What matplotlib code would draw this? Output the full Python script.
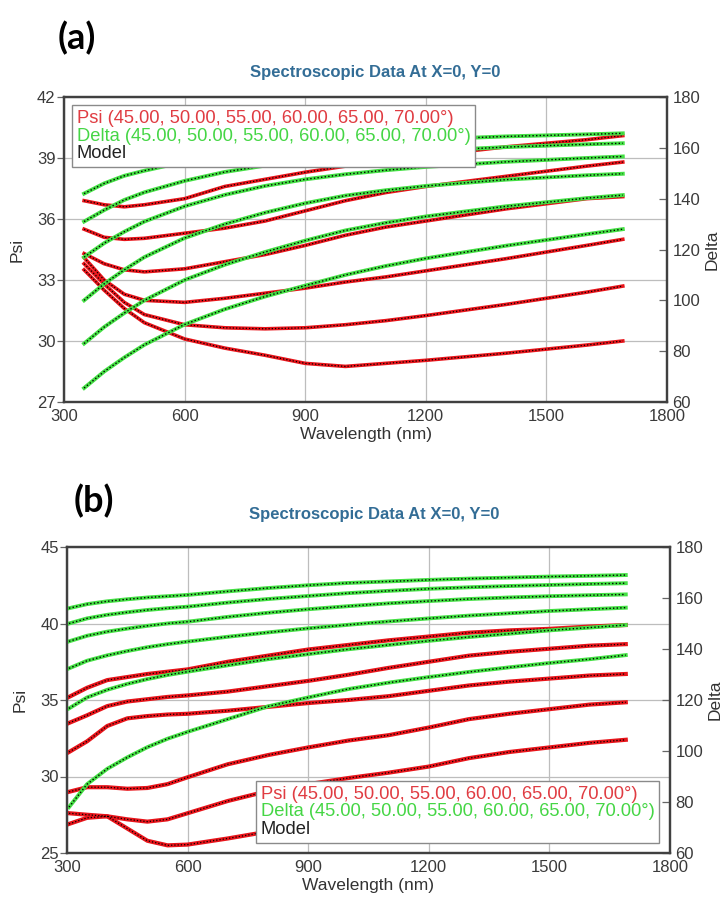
import matplotlib.pyplot as plt
from matplotlib.lines import Line2D

plt.rcParams['font.family'] = ['Liberation Sans', 'DejaVu Sans']

angles = ["45.00", "50.00", "55.00", "60.00", "65.00", "70.00"]
x_ticks = [300, 600, 900, 1200, 1500, 1800]
delta_ticks = [60, 80, 100, 120, 140, 160, 180]

# ---- panel (a) ----
wl_a = [350, 400, 450, 500, 600, 700, 800, 900, 1000, 1100, 1200, 1400, 1600, 1690]
psi_a = [
    [36.9, 36.7, 36.6, 36.7, 37.0, 37.6, 37.95, 38.3, 38.6, 38.85, 39.1, 39.55, 39.9, 40.1],
    [35.5, 35.1, 35.0, 35.05, 35.3, 35.55, 35.9, 36.4, 36.9, 37.3, 37.6, 38.1, 38.6, 38.8],
    [34.3, 33.8, 33.5, 33.4, 33.55, 33.9, 34.25, 34.7, 35.2, 35.6, 35.9, 36.5, 37.0, 37.1],
    [34.1, 33.0, 32.3, 32.0, 31.9, 32.1, 32.35, 32.6, 32.9, 33.15, 33.45, 34.05, 34.7, 35.0],
    [33.8, 32.8, 31.9, 31.3, 30.8, 30.65, 30.6, 30.65, 30.8, 31.0, 31.25, 31.8, 32.4, 32.7],
    [33.5, 32.5, 31.6, 30.9, 30.1, 29.65, 29.3, 28.9, 28.75, 28.9, 29.05, 29.4, 29.8, 30.0],
]
delta_a = [
    [65.5, 72, 77.5, 82.5, 90.5, 96.5, 101.5, 105.8, 110, 113.5, 116.5, 121.5, 126, 128],
    [83, 89.5, 95, 100, 108, 114, 119, 123.5, 127.5, 130.5, 133, 137, 140.2, 141.4],
    [100, 106.5, 112, 117, 124.5, 130, 134.5, 138.2, 141.2, 143.3, 145, 147.5, 149.2, 149.8],
    [117, 122.5, 127, 131, 137, 141.5, 145, 147.6, 149.6, 151.2, 152.5, 154.5, 156, 156.6],
    [131, 135.5, 139.5, 142.5, 147, 150.5, 153, 155, 156.5, 157.8, 158.8, 160.3, 161.4, 161.8],
    [142, 146, 149, 151, 154.5, 157, 158.8, 160.3, 161.5, 162.5, 163.3, 164.5, 165.3, 165.7],
]
psi_ticks_a = [27, 30, 33, 36, 39, 42]

# ---- panel (b) ----
wl_b = [305, 350, 400, 450, 500, 550, 600, 700, 800, 900, 1000, 1100, 1200, 1300, 1400, 1500, 1600, 1690]
psi_b = [
    [35.2, 35.8, 36.3, 36.5, 36.7, 36.85, 37.0, 37.5, 37.9, 38.3, 38.6, 38.9, 39.15, 39.4, 39.55, 39.65, 39.8, 39.9],
    [33.5, 34.0, 34.6, 34.9, 35.05, 35.2, 35.3, 35.55, 35.9, 36.25, 36.65, 37.1, 37.5, 37.9, 38.15, 38.35, 38.55, 38.65],
    [31.6, 32.3, 33.3, 33.8, 33.95, 34.05, 34.1, 34.3, 34.55, 34.8, 35.0, 35.25, 35.6, 35.95, 36.2, 36.4, 36.6, 36.7],
    [29.0, 29.3, 29.3, 29.2, 29.25, 29.5, 29.95, 30.8, 31.4, 31.9, 32.35, 32.7, 33.2, 33.75, 34.1, 34.4, 34.7, 34.85],
    [27.6, 27.5, 27.4, 27.2, 27.05, 27.2, 27.6, 28.4, 29.05, 29.5, 29.9, 30.25, 30.65, 31.2, 31.6, 31.9, 32.2, 32.4],
    [26.9, 27.3, 27.4, 26.6, 25.8, 25.5, 25.55, 25.95, 26.4, 26.75, 27.1, 27.4, 27.7, 28.0, 28.3, 28.55, 28.8, 29.0],
]
delta_b = [
    [156, 157.6, 158.7, 159.5, 160.2, 160.7, 161.2, 162.6, 163.9, 165.0, 165.9, 166.5, 167.1, 167.6, 168.0, 168.4, 168.7, 169.0],
    [150, 152, 153.4, 154.4, 155.3, 156.0, 156.6, 158.2, 159.6, 160.8, 161.9, 162.8, 163.6, 164.2, 164.7, 165.1, 165.5, 165.8],
    [143, 145.2, 146.8, 148.0, 149.1, 150.0, 150.7, 152.6, 154.2, 155.6, 156.8, 157.9, 158.8, 159.6, 160.2, 160.7, 161.1, 161.4],
    [132.4, 135.4, 137.5, 139.2, 140.7, 141.9, 142.9, 144.8, 146.5, 148.1, 149.5, 150.8, 152.0, 153.1, 154.0, 154.9, 155.6, 156.2],
    [116.7, 121, 124, 126.3, 128.2, 129.8, 131.1, 133.6, 136.0, 138.0, 139.9, 141.6, 143.2, 144.7, 146.0, 147.3, 148.4, 149.4],
    [78, 87, 93, 97.5, 101.5, 104.8, 107.5, 112.5, 117.5, 121.0, 124.3, 126.8, 129.0, 131.0, 132.8, 134.5, 136.0, 137.6],
]
psi_ticks_b = [25, 30, 35, 40, 45]

RED = "#e8141a"
GREEN = "#44e044"
TICK_COLOR = "#3a3a3a"
legend_labels = [
    "Psi (" + ", ".join(angles[:-1]) + ", " + angles[-1] + "°)",
    "Delta (" + ", ".join(angles[:-1]) + ", " + angles[-1] + "°)",
    "Model",
]
legend_colors = ["#e03c42", "#45d645", "#222222"]
MODEL_LS = (0, (1, 1.6))


def draw_panel(rect, wl, psi, delta, psi_ticks, red_lw, legend_loc, legend_anchor):
    ax = fig.add_axes(rect)
    ax2 = ax.twinx()

    for series in psi:
        ax.plot(wl, series, color=RED, lw=red_lw, solid_joinstyle="round", zorder=2)
        ax.plot(wl, series, color="black", lw=0.9, ls=MODEL_LS, zorder=3)
    for series in delta:
        ax2.plot(wl, series, color=GREEN, lw=2.8, zorder=2)
        ax2.plot(wl, series, color="black", lw=1.0, ls=MODEL_LS, zorder=3)

    ax.set_xlim(300, 1800)
    ax.set_xticks(x_ticks)
    ax.set_ylim(psi_ticks[0], psi_ticks[-1])
    ax.set_yticks(psi_ticks)
    ax2.set_ylim(60, 180)
    ax2.set_yticks(delta_ticks)

    ax.grid(True, color="#bdbdbd", lw=0.9)
    ax.set_axisbelow(True)

    ax.tick_params(axis="x", length=0, pad=5, labelsize=12, labelcolor=TICK_COLOR)
    ax.tick_params(axis="y", direction="out", length=5, width=0.9, pad=1,
                   labelsize=12, labelcolor=TICK_COLOR, color="#666666")
    ax2.tick_params(axis="y", direction="in", length=6, width=0.9, pad=4,
                    labelsize=12, labelcolor=TICK_COLOR, color="#666666")

    for a in (ax, ax2):
        for sp in a.spines.values():
            sp.set_color("#404040")
            sp.set_linewidth(1.6)

    ax.set_xlabel("Wavelength (nm)", fontsize=12.5, color="#333333", labelpad=2)
    ax.set_ylabel("Psi", fontsize=12.5, color="#333333", labelpad=9)
    ax2.set_ylabel("Delta", fontsize=12.5, color="#333333", labelpad=3)

    handles = [Line2D([], [], linestyle="none") for _ in legend_labels]
    leg = ax2.legend(handles, legend_labels, loc=legend_loc, bbox_to_anchor=legend_anchor,
                     handlelength=0, handletextpad=0, fontsize=13.2, borderaxespad=0,
                     borderpad=0.25, labelspacing=0.05, fancybox=False, framealpha=1,
                     edgecolor="#8a8a8a")
    leg.get_frame().set_linewidth(1.0)
    for txt, c in zip(leg.get_texts(), legend_colors):
        txt.set_color(c)
    return ax


fig = plt.figure(figsize=(7.28, 8.99), dpi=100)
W, H = 728.0, 899.0

draw_panel([64 / W, 1 - 402 / H, 603 / W, 305 / H], wl_a, psi_a, delta_a, psi_ticks_a,
           2.6, "upper left", (8 / 603, 1 - 8 / 305))
draw_panel([67 / W, 1 - 853 / H, 603 / W, 306 / H], wl_b, psi_b, delta_b, psi_ticks_b,
           3.0, "lower right", ((659 - 67) / 603, 10 / 306))

title = "Spectroscopic Data At X=0, Y=0"
fig.text(375 / W, 1 - 72 / H, title, ha="center", va="center", fontsize=12,
         fontweight="bold", color="#336d96")
fig.text(374 / W, 1 - 515 / H, title, ha="center", va="center", fontsize=12,
         fontweight="bold", color="#336d96")

fig.text(77 / W, 1 - 38 / H, "(a)", ha="center", va="center", fontsize=26,
         fontweight="bold", family=["Lato", "DejaVu Sans"], color="black")
fig.text(94 / W, 1 - 501 / H, "(b)", ha="center", va="center", fontsize=26,
         fontweight="bold", family=["Lato", "DejaVu Sans"], color="black")

fig.savefig("out.png", dpi=100)
